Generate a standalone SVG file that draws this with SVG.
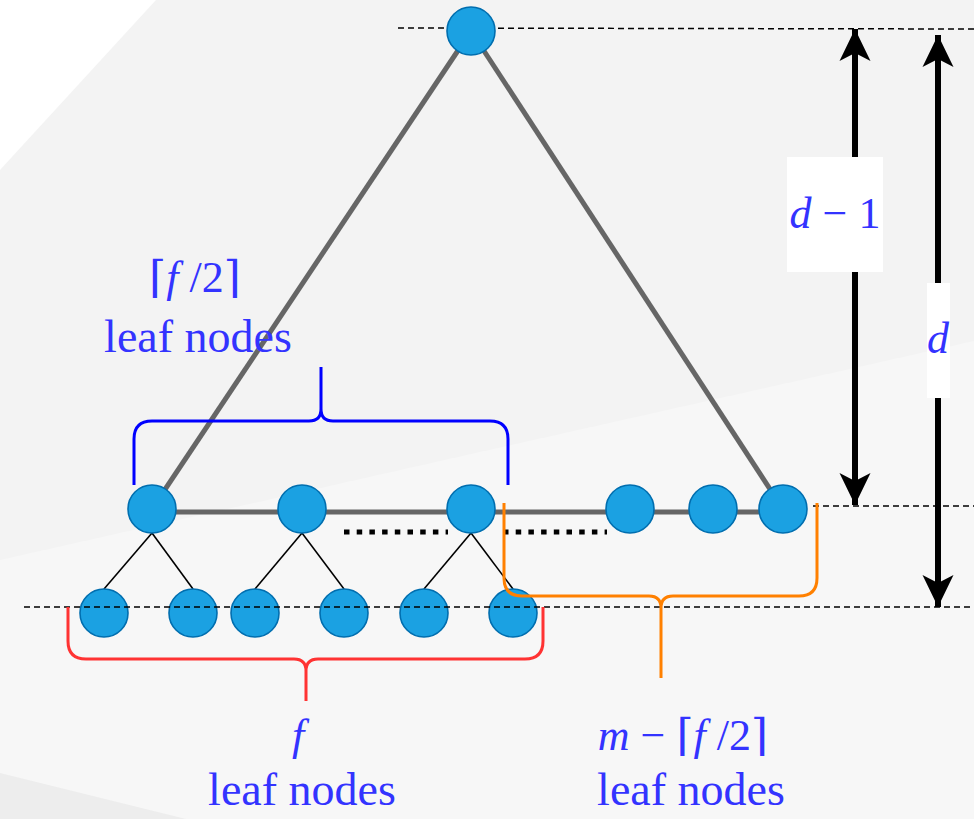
<svg xmlns="http://www.w3.org/2000/svg" width="974" height="819" viewBox="0 0 974 819">
  <defs>
    <style>
      .node { fill: #1ba1e2; stroke: #006eaf; stroke-width: 1.6; }
      .thick { stroke: #666666; stroke-width: 5; fill: none; }
      .thin { stroke: #000000; stroke-width: 1.6; fill: none; }
      .dash { stroke: #000000; stroke-width: 1.5; stroke-dasharray: 6 4; fill: none; }
      .dots { stroke: #000000; stroke-width: 5; stroke-dasharray: 5.5 7.2; fill: none; }
      .brace { fill: none; stroke-width: 3; stroke-linecap: butt; stroke-linejoin: round; }
      .dim { stroke: #000000; stroke-width: 6; fill: none; }
      .lbl { font-family: "Liberation Serif", "DejaVu Serif", serif; font-size: 44px; fill: #3333ff; text-anchor: middle; }
      .it { font-style: italic; }
      .ceil { font-family: "DejaVu Sans", "DejaVu Serif", serif; font-weight: 200; }
    </style>
    <marker id="arr" viewBox="0 0 32 32" refX="32" refY="16" markerWidth="32" markerHeight="32" markerUnits="userSpaceOnUse" orient="auto-start-reverse">
      <path d="M32,16 L0,0.5 L8,16 L0,31.5 Z" fill="#000000"/>
    </marker>
  </defs>

  <!-- background -->
  <g id="background">
    <rect x="0" y="0" width="974" height="819" fill="#f3f3f3"/>
    <polygon points="0,0 156,0 0,170" fill="#ffffff"/>
    <polygon points="0,560 974,341 974,819 0,819" fill="#f7f7f7"/>
    <polygon points="0,773 186,819 0,819" fill="#ededed"/>
  </g>

  <!-- connectors -->
  <g id="connectors">
    <line class="dash" x1="398" y1="28" x2="974" y2="29"/>
    <line class="thick" x1="471" y1="31" x2="152" y2="509"/>
    <line class="thick" x1="471" y1="31" x2="783" y2="509"/>
    <line class="thick" x1="152" y1="512" x2="783" y2="512"/>
    <line class="thin" x1="152" y1="533" x2="104" y2="589"/>
    <line class="thin" x1="152" y1="533" x2="193" y2="589"/>
    <line class="thin" x1="302" y1="533" x2="255" y2="589"/>
    <line class="thin" x1="302" y1="533" x2="344" y2="589"/>
    <line class="thin" x1="471" y1="533" x2="424" y2="589"/>
    <line class="thin" x1="471" y1="533" x2="513" y2="589"/>
    <line class="dots" x1="344" y1="532" x2="448" y2="532"/>
    <line class="dots" x1="503" y1="532" x2="607" y2="532"/>
    <line class="dash" x1="813" y1="506" x2="974" y2="506"/>
  </g>

  <!-- nodes -->
  <g id="root"><circle class="node" cx="471" cy="31" r="24"/></g>
  <g id="mid1"><circle class="node" cx="152" cy="509" r="24"/></g>
  <g id="mid2"><circle class="node" cx="302" cy="509" r="24"/></g>
  <g id="mid3"><circle class="node" cx="471" cy="509" r="24"/></g>
  <g id="mid4"><circle class="node" cx="630" cy="509" r="24"/></g>
  <g id="mid5"><circle class="node" cx="713" cy="509" r="24"/></g>
  <g id="mid6"><circle class="node" cx="783" cy="509" r="24"/></g>
  <g id="leaf1"><circle class="node" cx="104" cy="613" r="24"/></g>
  <g id="leaf2"><circle class="node" cx="193" cy="613" r="24"/></g>
  <g id="leaf3"><circle class="node" cx="255" cy="613" r="24"/></g>
  <g id="leaf4"><circle class="node" cx="344" cy="613" r="24"/></g>
  <g id="leaf5"><circle class="node" cx="424" cy="613" r="24"/></g>
  <g id="leaf6"><circle class="node" cx="513" cy="613" r="24"/></g>

  <g id="baseline-leaves">
    <line class="dash" x1="24" y1="607" x2="974" y2="607"/>
  </g>

  <!-- braces -->
  <g id="brace-blue">
    <path class="brace" stroke="#0000ff" d="M134,485 V439 Q134,421 152,421 H309 Q321,421 321,409 V367 M321,409 Q321,421 333,421 H490 Q508,421 508,439 V485"/>
  </g>
  <g id="brace-red">
    <path class="brace" stroke="#ff3333" d="M68,607 V641 Q68,659 86,659 H294 Q306,659 306,671 V701 M306,671 Q306,659 318,659 H525 Q543,659 543,641 V607"/>
  </g>
  <g id="brace-orange">
    <path class="brace" stroke="#ff8000" d="M504,503 V578 Q504,596 522,596 H649 Q661,596 661,608 V678 M661,608 Q661,596 673,596 H799 Q817,596 817,578 V503"/>
  </g>

  <!-- dimension arrows -->
  <g id="dim-d-minus-1">
    <line class="dim" x1="855" y1="505" x2="855" y2="29" marker-start="url(#arr)" marker-end="url(#arr)"/>
    <rect x="787" y="157" width="96" height="115" fill="#ffffff"/>
    <text class="lbl" x="835" y="228"><tspan class="it">d</tspan> − 1</text>
  </g>
  <g id="dim-d">
    <line class="dim" x1="938" y1="607" x2="938" y2="35" marker-start="url(#arr)" marker-end="url(#arr)"/>
    <rect x="927" y="283" width="23" height="115" fill="#ffffff"/>
    <text class="lbl" x="938" y="353"><tspan class="it">d</tspan></text>
  </g>

  <!-- labels -->
  <g id="label-top">
    <text class="lbl" x="195" y="292"><tspan class="ceil">⌈</tspan><tspan class="it">f</tspan> /2<tspan class="ceil">⌉</tspan></text>
    <text class="lbl" x="198" y="352" style="font-size:46px">leaf nodes</text>
  </g>
  <g id="label-f">
    <text class="lbl" x="298" y="750"><tspan class="it">f</tspan></text>
    <text class="lbl" x="302" y="805" style="font-size:46px">leaf nodes</text>
  </g>
  <g id="label-m">
    <text class="lbl" x="683" y="750"><tspan class="it">m</tspan> − <tspan class="ceil">⌈</tspan><tspan class="it">f</tspan> /2<tspan class="ceil">⌉</tspan></text>
    <text class="lbl" x="691" y="805" style="font-size:46px">leaf nodes</text>
  </g>
</svg>
